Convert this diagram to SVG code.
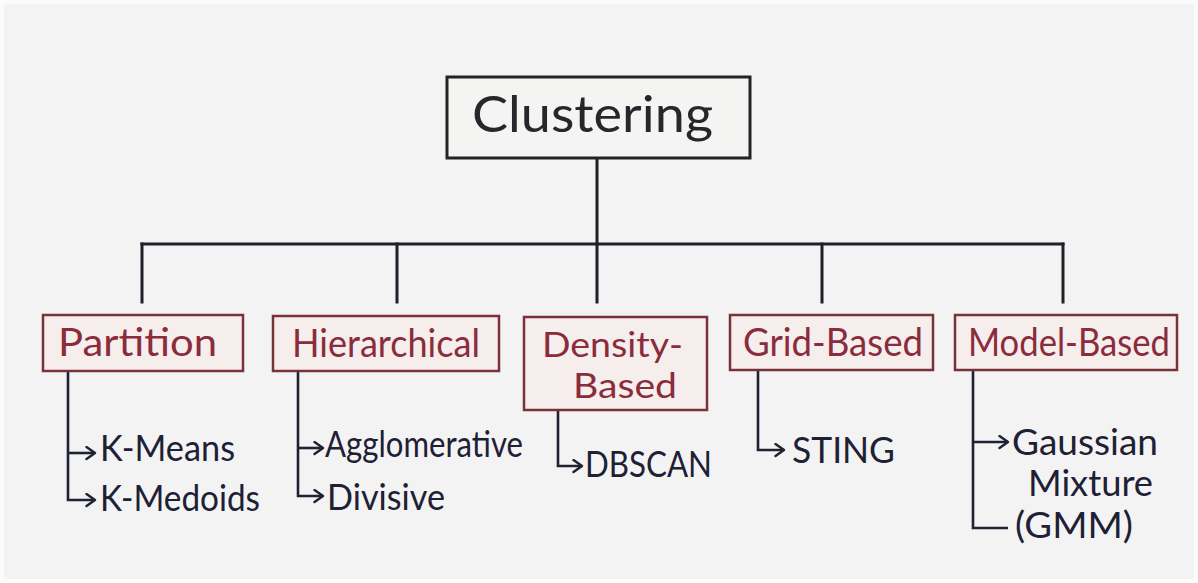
<svg xmlns="http://www.w3.org/2000/svg" width="1198" height="583" viewBox="0 0 1198 583">
  <defs>
    <marker id="chevron" markerUnits="userSpaceOnUse" markerWidth="14" markerHeight="16" refX="10" refY="7" orient="auto">
      <path d="M1.5,1 L10,7 L1.5,13" fill="none" stroke="#1f2233" stroke-width="2.4" stroke-linecap="round" stroke-linejoin="round"/>
    </marker>
    <style>
      .root-box { fill: #f4f4f3; stroke: #222326; stroke-width: 3; }
      .root-label { font-family: Lato, "Liberation Sans", sans-serif; font-size: 50px; fill: #26272b; }
      .cat-box { fill: #f6eeec; stroke: #7a3239; stroke-width: 2.5; }
      .cat-label { font-family: Lato, "Liberation Sans", sans-serif; font-size: 38px; fill: #8a2c3c; }
      .cat-label.two-line { font-size: 34px; }
      .item-label { font-family: Lato, "Liberation Sans", sans-serif; font-size: 36px; fill: #1e2034; }
      .trunk { fill: none; stroke: #1f2028; stroke-width: 3; stroke-linecap: square; }
      .branch { fill: none; stroke: #1f2233; stroke-width: 2.6; stroke-linejoin: miter; }
    </style>
  </defs>

  <!-- paper -->
  <rect x="0" y="0" width="1198" height="583" fill="#fbfbfb"/>
  <rect x="4" y="4" width="1190" height="575" fill="#f3f3f4"/>

  <!-- connectors -->
  <g id="connectors">
    <path class="trunk" d="M597,158 V244"/>
    <path class="trunk" d="M142,244 H1063"/>
    <path class="trunk" d="M142,244 V302 M397,244 V302 M597,244 V302 M822,244 V302 M1063,244 V302"/>

    <path class="branch" d="M68,371 V500 H95" marker-end="url(#chevron)"/>
    <path class="branch" d="M68,453 H95" marker-end="url(#chevron)"/>

    <path class="branch" d="M298,371 V496 H323" marker-end="url(#chevron)"/>
    <path class="branch" d="M298,448 H323" marker-end="url(#chevron)"/>

    <path class="branch" d="M558,410 V466 H582" marker-end="url(#chevron)"/>

    <path class="branch" d="M758,370 V450 H784" marker-end="url(#chevron)"/>

    <path class="branch" d="M973,370 V528 H1008"/>
    <path class="branch" d="M973,442 H1008" marker-end="url(#chevron)"/>
  </g>

  <!-- root -->
  <g id="clustering">
    <rect class="root-box" x="447" y="77" width="303" height="81"/>
    <text class="root-label" x="472" y="132" textLength="241" lengthAdjust="spacingAndGlyphs">Clustering</text>
  </g>

  <!-- categories -->
  <g id="partition">
    <rect class="cat-box" x="43" y="315" width="200" height="56"/>
    <text class="cat-label" x="58" y="356" textLength="159" lengthAdjust="spacingAndGlyphs">Partition</text>
  </g>
  <g id="hierarchical">
    <rect class="cat-box" x="273" y="316" width="226" height="55"/>
    <text class="cat-label" x="292" y="357" textLength="188" lengthAdjust="spacingAndGlyphs">Hierarchical</text>
  </g>
  <g id="density-based">
    <rect class="cat-box" x="524" y="317" width="183" height="93"/>
    <text class="cat-label two-line" x="542" y="357" textLength="141" lengthAdjust="spacingAndGlyphs">Density-</text>
    <text class="cat-label two-line" x="573" y="398" textLength="104" lengthAdjust="spacingAndGlyphs">Based</text>
  </g>
  <g id="grid-based">
    <rect class="cat-box" x="730" y="315" width="203" height="55"/>
    <text class="cat-label" x="743" y="356" textLength="180" lengthAdjust="spacingAndGlyphs">Grid-Based</text>
  </g>
  <g id="model-based">
    <rect class="cat-box" x="955" y="315" width="222" height="55"/>
    <text class="cat-label" x="968" y="356" textLength="202" lengthAdjust="spacingAndGlyphs">Model-Based</text>
  </g>

  <!-- algorithms -->
  <g id="k-means"><text class="item-label" x="100" y="461" textLength="135" lengthAdjust="spacingAndGlyphs">K-Means</text></g>
  <g id="k-medoids"><text class="item-label" x="100" y="511" textLength="160" lengthAdjust="spacingAndGlyphs">K-Medoids</text></g>
  <g id="agglomerative"><text class="item-label" x="325" y="457" textLength="198" lengthAdjust="spacingAndGlyphs">Agglomerative</text></g>
  <g id="divisive"><text class="item-label" x="327" y="510" textLength="118" lengthAdjust="spacingAndGlyphs">Divisive</text></g>
  <g id="dbscan"><text class="item-label" x="585" y="477" textLength="127" lengthAdjust="spacingAndGlyphs">DBSCAN</text></g>
  <g id="sting"><text class="item-label" x="792" y="463" textLength="103" lengthAdjust="spacingAndGlyphs">STING</text></g>
  <g id="gmm">
    <text class="item-label" x="1012" y="455" textLength="146" lengthAdjust="spacingAndGlyphs">Gaussian</text>
    <text class="item-label" x="1028" y="496" textLength="125" lengthAdjust="spacingAndGlyphs">Mixture</text>
    <text class="item-label" x="1015" y="538" textLength="118" lengthAdjust="spacingAndGlyphs">(GMM)</text>
  </g>
</svg>
